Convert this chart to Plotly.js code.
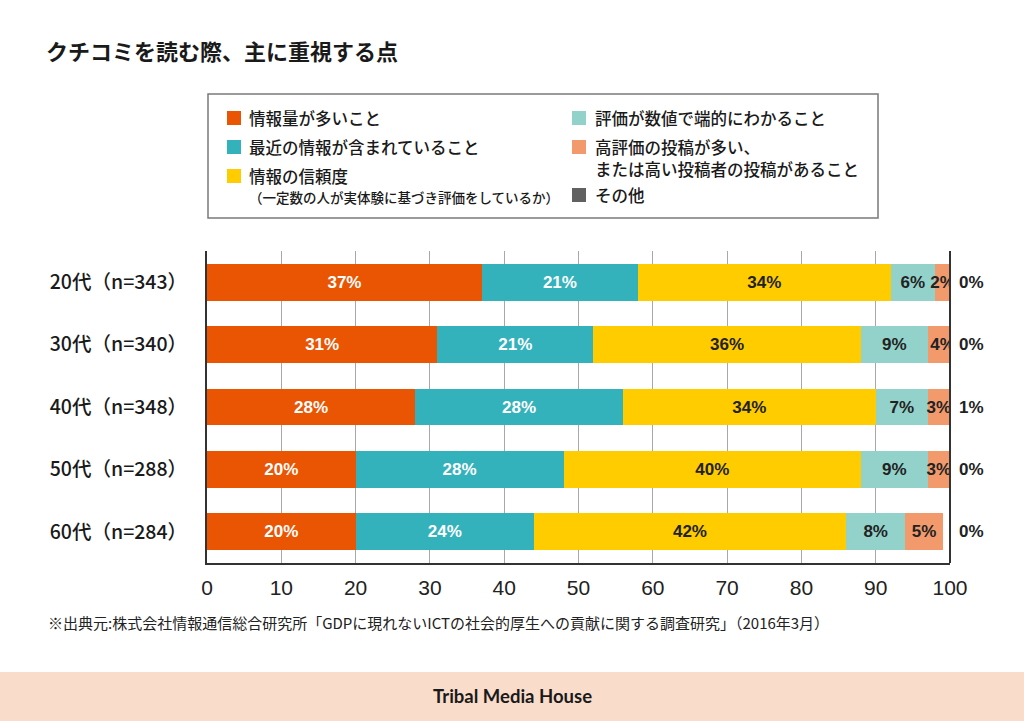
<!DOCTYPE html>
<html><head><meta charset="utf-8">
<script src="https://cdn.plot.ly/plotly-3.0.1.min.js"></script>
<style>html,body{margin:0;padding:0;background:#fff;} #chart{width:1024px;height:721px;}</style>
</head><body><div id="chart"></div>
<script>
// ---- data ----
const categories = ['20代（n=343）','30代（n=340）','40代（n=348）','50代（n=288）','60代（n=284）'];
const seriesNames = ['情報量が多いこと','最近の情報が含まれていること','情報の信頼度','評価が数値で端的にわかること','高評価の投稿が多い、','その他'];
const seriesNotes = ['','','（一定数の人が実体験に基づき評価をしているか）','','または高い投稿者の投稿があること',''];
const infoVolume    = [37, 31, 28, 20, 20];
const recentInfo    = [21, 21, 28, 28, 24];
const reliability   = [34, 36, 34, 40, 42];
const ratingNumeric = [6, 9, 7, 9, 8];
const highRated     = [2, 4, 3, 3, 5];
const other         = [0, 0, 1, 0, 0];
const xTickValues   = [0,10,20,30,40,50,60,70,80,90,100];
const titleText  = 'クチコミを読む際、主に重視する点';
const sourceText = '※出典元:株式会社情報通信総合研究所「GDPに現れないICTの社会的厚生への貢献に関する調査研究」（2016年3月）';
const footerText = 'Tribal Media House';

// ---- styles ----
const colors = ['#EA5504','#33B2BC','#FFCC00','#93D2CA','#F39A6D','#616161'];
const labelColors = ['#ffffff','#ffffff','#222222','#222222','#222222',null];
const seriesValues = [infoVolume, recentInfo, reliability, ratingNumeric, highRated, other];
const NUM_FONT = '"Liberation Sans", "DejaVu Sans", sans-serif';
const JP_FONT = '"Noto Sans CJK JP", "Noto Sans", sans-serif';

const L = 207, R = 950, T = 251, B = 563, W = 1024, H = 721;
const px = v => (v - L) / (R - L);
const py = v => (B - v) / (B - T);

const traces = seriesValues.map((vals, i) => ({
  type: 'bar', orientation: 'h',
  name: seriesNames[i],
  x: vals, y: categories,
  marker: {color: colors[i], line: {width: 0}},
  texttemplate: labelColors[i] ? '%{x}%' : '',
  textposition: labelColors[i] ? 'inside' : 'none',
  insidetextanchor: 'middle',
  textangle: 0,
  constraintext: 'none',
  textfont: {family: NUM_FONT, size: 17, weight: 'bold', color: labelColors[i] || '#222'},
  hoverinfo: 'skip',
  showlegend: false
}));

const annotations = [];
const shapes = [];
// outside labels for その他
categories.forEach((c, k) => {
  annotations.push({xref: 'x', yref: 'y', x: 100, y: c, xanchor: 'left', yanchor: 'middle', xshift: 7,
    text: other[k] + '%', showarrow: false,
    font: {family: NUM_FONT, size: 17, weight: 'bold', color: '#222'}});
});
// right frame line
shapes.push({type: 'line', xref: 'paper', yref: 'paper', x0: 1, x1: 1, y0: 0, y1: 1, line: {color: '#333', width: 2}});
// legend box
shapes.push({type: 'rect', xref: 'paper', yref: 'paper', x0: px(208), x1: px(878), y0: py(218), y1: py(94),
  line: {color: '#7a7a7a', width: 1.5}, fillcolor: 'rgba(0,0,0,0)'});
const legendPos = [
  {sx: 227, tx: 247, y: 118}, {sx: 227, tx: 247, y: 147}, {sx: 227, tx: 247, y: 176},
  {sx: 572, tx: 593, y: 118}, {sx: 572, tx: 593, y: 147}, {sx: 572, tx: 593, y: 195}
];
const notePos = [null, null, {x: 247, y: 197, size: 13.5}, null, {x: 593, y: 169, size: 16.5}, null];
seriesNames.forEach((n, i) => {
  const p = legendPos[i];
  shapes.push({type: 'rect', xref: 'paper', yref: 'paper', x0: px(p.sx), x1: px(p.sx + 14),
    y0: py(p.y + 7), y1: py(p.y - 7), fillcolor: colors[i], line: {width: 0}});
  annotations.push({xref: 'paper', yref: 'paper', x: px(p.tx), y: py(p.y), xanchor: 'left', yanchor: 'middle',
    text: n, showarrow: false, font: {family: JP_FONT, size: 16.5, weight: 500, color: '#1a1a1a'}});
  if (seriesNotes[i]) {
    const q = notePos[i];
    annotations.push({xref: 'paper', yref: 'paper', x: px(q.x), y: py(q.y), xanchor: 'left', yanchor: 'middle',
      text: seriesNotes[i], showarrow: false, font: {family: JP_FONT, size: q.size, weight: 500, color: '#1a1a1a'}});
  }
});
// source note
annotations.push({xref: 'paper', yref: 'paper', x: px(46), y: py(622), xanchor: 'left', yanchor: 'middle',
  text: sourceText, showarrow: false, font: {family: JP_FONT, size: 15, color: '#222'}});
// footer band
shapes.push({type: 'rect', xref: 'paper', yref: 'paper', x0: px(0), x1: px(W), y0: py(H), y1: py(672),
  fillcolor: '#FADCCA', line: {width: 0}, layer: 'below'});
annotations.push({xref: 'paper', yref: 'paper', x: px(512), y: py(696), xanchor: 'center', yanchor: 'middle',
  text: footerText, showarrow: false, font: {family: 'Lato, Inter, sans-serif', size: 18.5, weight: 'bold', color: '#1a1a1a'}});

const layout = {
  width: W, height: H,
  margin: {l: L, r: W - R, t: T, b: H - B, pad: 0},
  paper_bgcolor: '#fff', plot_bgcolor: '#fff',
  barmode: 'stack', bargap: 0.41,
  showlegend: false,
  title: {text: titleText, xref: 'container', yref: 'container', x: 46 / W, xanchor: 'left', y: 1 - 52 / H, yanchor: 'middle',
    font: {family: JP_FONT, size: 22, weight: 'bold', color: '#1a1a1a'}},
  xaxis: {range: [0, 100], tickvals: xTickValues, ticktext: xTickValues.map(String),
    showgrid: true, gridcolor: '#a8a8a8', gridwidth: 1, zeroline: false,
    showline: true, linecolor: '#333', linewidth: 2, ticks: '', ticklabelstandoff: 5,
    tickfont: {family: NUM_FONT, size: 21, color: '#222'}, fixedrange: true},
  yaxis: {autorange: 'reversed', showgrid: false, zeroline: false,
    showline: true, linecolor: '#333', linewidth: 2, ticks: '', ticklabelstandoff: 14,
    tickfont: {family: JP_FONT, size: 19.5, weight: 500, color: '#1a1a1a'}, fixedrange: true},
  annotations, shapes
};
Plotly.newPlot('chart', traces, layout, {staticPlot: true, displayModeBar: false});
</script></body></html>
